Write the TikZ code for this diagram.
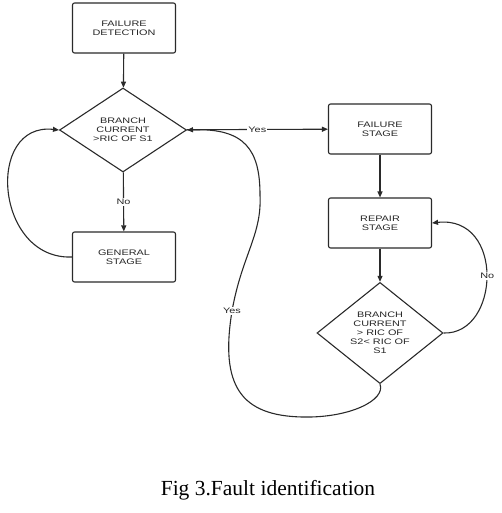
\documentclass[tikz,border=0pt]{standalone}
\usepackage{fontspec}
\setmainfont{Liberation Serif}
\newfontfamily\boxfont[FakeStretch=1.36]{Liberation Sans}
\usetikzlibrary{shapes.geometric,arrows.meta}
\definecolor{linegray}{HTML}{2A2A2A}
\begin{document}
\begin{tikzpicture}[x=1pt,y=-1pt,
  every node/.style={font=\boxfont\fontsize{8}{9}\selectfont, text=black!85, align=center},
  stagebox/.style={draw=linegray, line width=1.1pt, rounded corners=2pt, minimum width=103pt, minimum height=50pt, inner sep=0pt},
  decide/.style={draw=linegray, line width=1.1pt, diamond, minimum width=127pt, minimum height=84pt, inner sep=0pt},
  conn/.style={draw=linegray, line width=1.1pt, -{Triangle[length=6pt,width=5pt]}},
  lbl/.style={fill=white, inner sep=1pt}
]
\useasboundingbox (0,0) rectangle (502,513);
\node[stagebox] (fd) at (124,28) {FAILURE\\DETECTION};
\node[decide] (d1) at (123,130) {BRANCH\\CURRENT\\>RIC OF S1};
\node[stagebox] (gs) at (124,257) {GENERAL\\STAGE};
\node[stagebox] (fs) at (380,129) {FAILURE\\STAGE};
\node[stagebox] (rs) at (380,223) {REPAIR\\STAGE};
\node[decide, minimum width=126pt, minimum height=83pt] (d2) at (380,333) {BRANCH\\CURRENT\\> RIC OF\\S2< RIC OF\\S1};
\node[font=\fontsize{21.5}{23}\selectfont, anchor=base, text=black] (cap) at (268,495) {Fig 3.Fault identification};

\draw[conn] (fd) -- (d1);
\draw[conn] (d1) -- node[lbl] {No} (gs);
\draw[conn] (d1) -- node[lbl] {Yes} (fs);
\draw[conn] (fs) -- (rs);
\draw[conn] (rs) -- (d2);
\draw[conn] (gs.west) .. controls (-5,260) and (-15,122) .. (d1.west);
\draw[conn] (d2.east) .. controls (500,335) and (505,215) .. (rs.east)
  node[lbl, pos=0.5, xshift=1pt] {No};
\draw[conn] (d2.south) .. controls (386,400) and (350,418) .. (303,417)
  .. controls (240,416) and (220,385) .. (232,311) node[lbl, pos=1] {Yes}
  .. controls (242,255) and (262,235) .. (260,195)
  .. controls (260,150) and (245,128) .. (d1.east);
\end{tikzpicture}
\end{document}
